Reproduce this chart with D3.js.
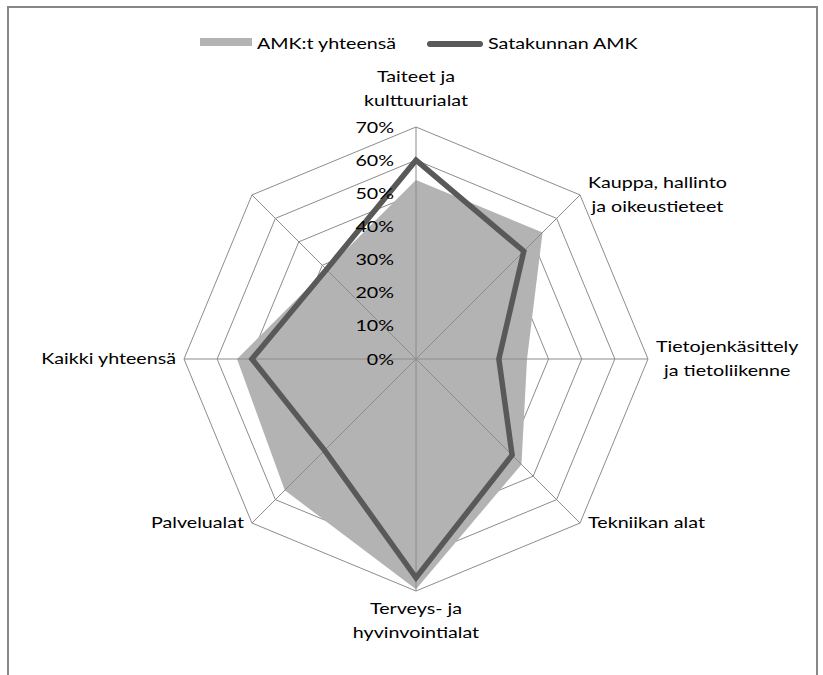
<!DOCTYPE html>
<html>
<head>
<meta charset="utf-8">
<script src="https://cdn.jsdelivr.net/npm/d3@7"></script>
<style>
  body { margin: 0; background: #fff; }
  text { font-family: Lato, "Open Sans", sans-serif; fill: #000; font-size: 16px; }
</style>
</head>
<body>
<div id="chart"></div>
<script>
// categories clockwise from the top (last one has no label)
const categories = [
  "Taiteet ja\nkulttuurialat",
  "Kauppa, hallinto\nja oikeustieteet",
  "Tietojenkäsittely\nja tietoliikenne",
  "Tekniikan alat",
  "Terveys- ja\nhyvinvointialat",
  "Palvelualat",
  "Kaikki yhteensä",
  ""
];
const amkTotal = [0.54, 0.54, 0.335, 0.45, 0.695, 0.56, 0.54, 0.382];
const satakunta = [0.60, 0.46, 0.25, 0.41, 0.66, 0.39, 0.495, 0.382];
const ticks = [0, 0.1, 0.2, 0.3, 0.4, 0.5, 0.6, 0.7];
const seriesNames = ["AMK:t yhteensä", "Satakunnan AMK"];

const width = 823, height = 675;
const cx = 416, cy = 359;
const sx = 1.23; // the source picture's text is stretched sideways

const svg = d3.select("#chart").append("svg")
    .attr("width", width)
    .attr("height", height);

// put a horizontally stretched text at x,y
function label(parent, x, y, str, anchor) {
    return parent.append("g")
        .attr("transform", `translate(${x},${y}) scale(${sx},1)`)
        .append("text")
        .attr("text-anchor", anchor || "start")
        .text(str);
}

// outer frame (runs off the bottom edge)
svg.append("rect")
    .attr("x", 8).attr("y", 7)
    .attr("width", 809).attr("height", 700)
    .attr("fill", "none")
    .attr("stroke", "#878787")
    .attr("stroke-width", 2);

const r = d3.scaleLinear().domain([0, 0.7]).range([0, 232]);
const angle = i => i * 2 * Math.PI / categories.length;
const pt = (i, v) => [cx + r(v) * Math.sin(angle(i)), cy - r(v) * Math.cos(angle(i))];

const radial = d3.lineRadial()
    .angle((d, i) => angle(i))
    .radius(d => r(d))
    .curve(d3.curveLinearClosed);

const g = svg.append("g").attr("transform", `translate(${cx},${cy})`);

// rings
g.selectAll("path.ring")
    .data(ticks.slice(1))
    .enter().append("path")
    .attr("class", "ring")
    .attr("d", t => radial(categories.map(() => t)))
    .attr("fill", "none")
    .attr("stroke", "#8c8c8c")
    .attr("stroke-width", 1);

// filled series
g.append("path")
    .attr("d", radial(amkTotal))
    .attr("fill", "#b3b3b3");

// spokes
g.selectAll("line.spoke")
    .data(categories)
    .enter().append("line")
    .attr("class", "spoke")
    .attr("x1", 0).attr("y1", 0)
    .attr("x2", (d, i) => pt(i, 0.7)[0] - cx)
    .attr("y2", (d, i) => pt(i, 0.7)[1] - cy)
    .attr("stroke", "#8c8c8c")
    .attr("stroke-width", 1);

// line series
g.append("path")
    .attr("d", radial(satakunta))
    .attr("fill", "none")
    .attr("stroke", "#595959")
    .attr("stroke-width", 5.5)
    .attr("stroke-linejoin", "miter");

// tick labels
const tickG = svg.append("g");
ticks.forEach(t => {
    label(tickG, cx - 22, cy - r(t) + 5.5, d3.format(".0%")(t), "end");
});

// category labels
const lineH = 24;
categories.forEach((name, i) => {
    if (!name) return;
    const lines = name.split("\n");
    const [vx, vy] = pt(i, 0.7);
    const s = Math.sin(angle(i)), c = Math.cos(angle(i));
    const lab = svg.append("g");
    const texts = lines.map((d, k) => label(lab, 0, k * lineH, d, "middle"));
    const w = d3.max(texts, t => t.node().getComputedTextLength()) * sx;
    const blockH = lines.length * lineH;
    let x, y;
    if (s > 0.1) x = vx + 8 + w / 2;
    else if (s < -0.1) x = vx - 8 - w / 2;
    else x = vx;
    if (c > 0.9) y = vy - 14 - blockH + 17;
    else if (c < -0.9) y = vy + 7 + 16;
    else y = vy - blockH / 2 + 17;
    lab.attr("transform", `translate(${x},${y})`);
});

// legend
const legend = svg.append("g");
legend.append("rect")
    .attr("x", 200).attr("y", 38)
    .attr("width", 52).attr("height", 8)
    .attr("fill", "#b3b3b3");
label(legend, 257, 49, seriesNames[0]);
legend.append("line")
    .attr("x1", 430).attr("x2", 480)
    .attr("y1", 44).attr("y2", 44)
    .attr("stroke", "#595959")
    .attr("stroke-width", 6)
    .attr("stroke-linecap", "round");
label(legend, 488, 49, seriesNames[1]);
</script>
</body>
</html>
